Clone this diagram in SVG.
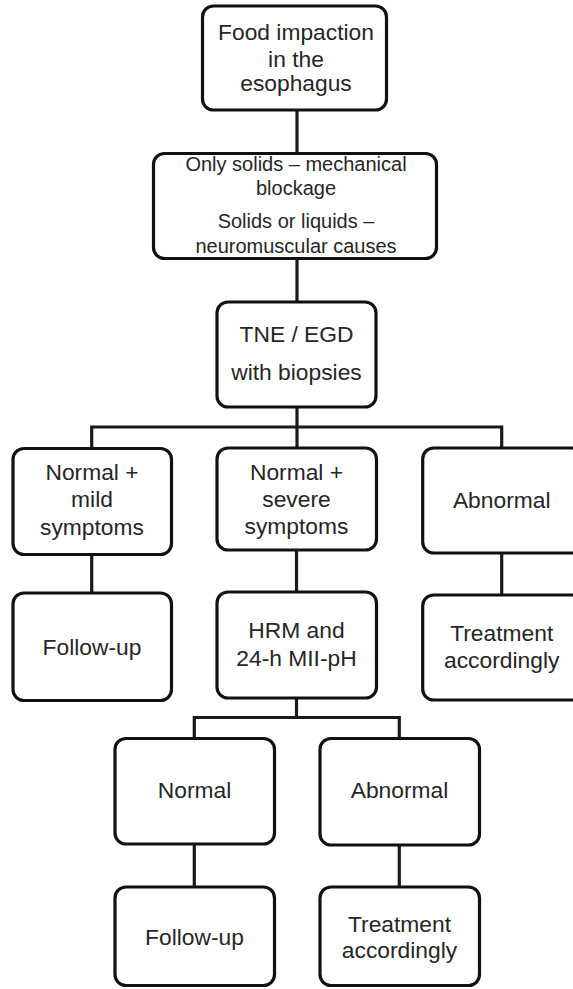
<svg xmlns="http://www.w3.org/2000/svg" width="573" height="989" viewBox="0 0 573 989">
<style>
.box{fill:#fff;stroke:#111;stroke-width:3.2}
.c{fill:none;stroke:#1a1a1a;stroke-width:3.2}
text{font-family:"Liberation Sans",Arial,sans-serif;font-size:22.8px;fill:#262626;text-anchor:middle}
.sm{font-size:20px}
</style>
<rect width="573" height="989" fill="#fff"/>
<g id="connectors">
<path class="c" d="M297 110V153.5M297 258.5V302M297 407V448M91.7 448.5V427H501.7V448M91.7 554.5V593M296.5 550V592M501.7 553V595M296.5 698V717.5M194.3 738.5V717.5H399.3V738.5M194.3 844V887M399.3 845V887"/>
</g>
<g id="n1"><rect class="box" x="202.5" y="6" width="184" height="104" rx="11"/>
<text x="296" y="40">Food impaction</text><text x="296" y="66.5">in the</text><text x="296" y="91">esophagus</text></g>
<g id="n2"><rect class="box" x="153.5" y="153.5" width="283" height="105" rx="11"/>
<text class="sm" x="296" y="170.7">Only solids – mechanical</text><text class="sm" x="296" y="195">blockage</text><text class="sm" x="296" y="228.3">Solids or liquids –</text><text class="sm" x="296" y="252.7">neuromuscular causes</text></g>
<g id="n3"><rect class="box" x="217" y="302" width="159" height="105" rx="11"/>
<text x="296.5" y="341.7">TNE / EGD</text><text x="296.5" y="380">with biopsies</text></g>
<g id="n4"><rect class="box" x="13" y="448.5" width="158.5" height="106" rx="11"/>
<text x="92" y="480">Normal +</text><text x="92" y="507.3">mild</text><text x="92" y="535">symptoms</text></g>
<g id="n5"><rect class="box" x="217" y="448" width="159.5" height="102" rx="11"/>
<text x="296.5" y="479.5">Normal +</text><text x="296.5" y="507">severe</text><text x="296.5" y="534">symptoms</text></g>
<g id="n6"><rect class="box" x="422.7" y="448" width="159" height="105" rx="11"/>
<text x="501.7" y="508">Abnormal</text></g>
<g id="n7"><rect class="box" x="13" y="593" width="158.5" height="107.5" rx="11"/>
<text x="92" y="655">Follow-up</text></g>
<g id="n8"><rect class="box" x="217" y="592" width="159.5" height="106" rx="11"/>
<text x="296.5" y="638.3">HRM and</text><text x="296.5" y="666">24-h MII-pH</text></g>
<g id="n9"><rect class="box" x="422.7" y="595" width="159" height="105" rx="11"/>
<text x="501.7" y="640.7">Treatment</text><text x="501.7" y="668.3">accordingly</text></g>
<g id="n10"><rect class="box" x="115" y="738.5" width="159.5" height="105.5" rx="11"/>
<text x="194.5" y="798.3">Normal</text></g>
<g id="n11"><rect class="box" x="320" y="738.5" width="159.5" height="106.5" rx="11"/>
<text x="399.5" y="798.3">Abnormal</text></g>
<g id="n12"><rect class="box" x="115" y="887" width="159.5" height="98.5" rx="11"/>
<text x="194.5" y="945">Follow-up</text></g>
<g id="n13"><rect class="box" x="320" y="887" width="159.5" height="98.5" rx="11"/>
<text x="399.5" y="931.7">Treatment</text><text x="399.5" y="958.3">accordingly</text></g>
</svg>
